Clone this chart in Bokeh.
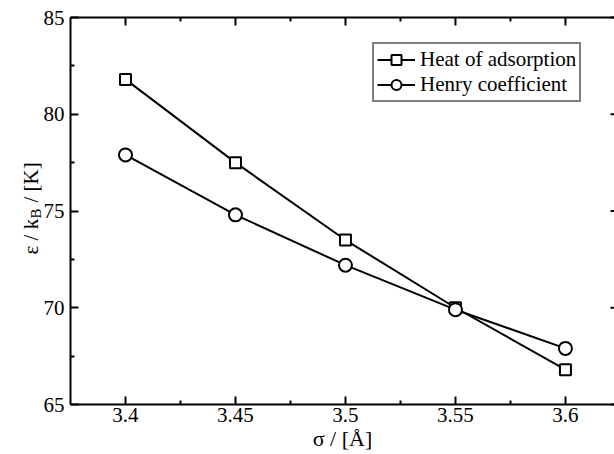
import math
from bokeh.plotting import figure
from bokeh.models import (FixedTicker, LinearAxis, Range1d, Label, Legend, LegendItem)
from bokeh.embed import file_html
from bokeh.resources import INLINE

sigma = [3.4, 3.45, 3.5, 3.55, 3.6]
heat_of_adsorption = [81.8, 77.5, 73.5, 70.0, 66.8]
henry_coefficient = [77.9, 74.8, 72.2, 69.9, 67.9]

x_ticks = [3.4, 3.45, 3.5, 3.55, 3.6]
x_tick_labels = ["3.4", "3.45", "3.5", "3.55", "3.6"]
y_ticks = [65, 70, 75, 80, 85]
y_tick_labels = ["65", "70", "75", "80", "85"]

FONT = "'Liberation Serif', 'Times New Roman', serif"

# axis box (data) and geometry (pixels)
X0, X1 = 3.375, 3.6223
Y0, Y1 = 65, 85
W, H = 614, 454
AXL, AXT, AXB = 70, 17, 404     # pixel positions of left, top, bottom spines
px_x = (W - AXL) / (X1 - X0)
px_y = (AXB - AXT) / (Y1 - Y0)
XS = X0 - AXL / px_x
YS = Y0 - (H - AXB) / px_y
YE = Y1 + AXT / px_y

p = figure(width=W, height=H, output_backend="svg", toolbar_location=None,
           x_range=Range1d(XS, X1), y_range=Range1d(YS, YE),
           min_border=0, x_axis_location=None, y_axis_location=None)
p.grid.visible = False
p.outline_line_color = None
p.background_fill_color = "white"
p.border_fill_color = "white"

x_minor = [a + (b - a) / 2 for a, b in zip(x_ticks[:-1], x_ticks[1:])] + [x_ticks[-1] + 0.025]
y_minor = [a + (b - a) / 2 for a, b in zip(y_ticks[:-1], y_ticks[1:])]
xt = FixedTicker(ticks=x_ticks, minor_ticks=x_minor)
yt = FixedTicker(ticks=y_ticks, minor_ticks=y_minor)


def style(ax):
    ax.axis_line_width = 2
    ax.axis_line_color = "black"
    ax.major_tick_in = 8
    ax.major_tick_out = 0
    ax.minor_tick_in = 4
    ax.minor_tick_out = 0
    ax.major_tick_line_width = 2
    ax.minor_tick_line_width = 2
    ax.major_label_text_font = FONT
    ax.major_label_text_color = "black"
    ax.major_label_text_font_size = "21px"
    ax.axis_label_text_font = FONT
    ax.axis_label_text_font_style = "normal"
    ax.axis_label_text_color = "black"


xb = LinearAxis(ticker=xt, axis_label="σ / [Å]", bounds=(X0, X1), fixed_location=Y0,
                major_label_overrides={t: s for t, s in zip(x_ticks, x_tick_labels)})
style(xb)
xb.axis_label_text_font_size = "22px"
xb.major_label_standoff = 3
xb.axis_label_standoff = 1
p.add_layout(xb, "below")

yl = LinearAxis(ticker=yt, fixed_location=X0, bounds=(Y0, Y1),
                major_label_overrides={t: s for t, s in zip(y_ticks, y_tick_labels)})
style(yl)
yl.major_label_standoff = 6
p.add_layout(yl, "left")

# top spine with inward ticks
p.segment(x0=[X0], y0=[Y1], x1=[X1], y1=[Y1], line_color="black", line_width=2)
p.segment(x0=x_ticks, y0=[Y1] * len(x_ticks), x1=x_ticks,
          y1=[Y1 - 8 / px_y] * len(x_ticks), line_color="black", line_width=2)
p.segment(x0=x_minor, y0=[Y1] * len(x_minor), x1=x_minor,
          y1=[Y1 - 4 / px_y] * len(x_minor), line_color="black", line_width=2)
# right-side inward ticks (spine lies just outside the visible area)
p.scatter([X1] * len(y_ticks), y_ticks, marker="dash", size=8,
          line_color="black", line_width=2)

l1 = p.line(sigma, heat_of_adsorption, line_color="black", line_width=2)
s1 = p.scatter(sigma, heat_of_adsorption, marker="square", size=11,
               line_color="black", line_width=2, fill_color="white")
l2 = p.line(sigma, henry_coefficient, line_color="black", line_width=2)
s2 = p.scatter(sigma, henry_coefficient, marker="circle", size=13,
               line_color="black", line_width=2, fill_color="white")

legend = Legend(items=[LegendItem(label="Heat of adsorption", renderers=[l1, s1]),
                       LegendItem(label="Henry coefficient", renderers=[l2, s2])],
                location=(372, H - 102))
legend.border_line_color = "black"
legend.border_line_width = 2
legend.label_text_font = FONT
legend.label_text_font_size = "21px"
legend.label_text_color = "black"
legend.glyph_width = 38
legend.glyph_height = 25
legend.label_height = 25
legend.label_standoff = 5
legend.padding = 3
legend.spacing = 0
legend.margin = 0
p.add_layout(legend, "center")

# y-axis title with subscript B, rotated, left of the axis line
base = dict(angle=math.pi / 2, text_font=FONT, text_color="black",
            text_align="left", text_baseline="alphabetic")
x_main = X0 - 40 / px_x
x_sub = X0 - 35 / px_x
y_start = Y0 + 150 / px_y
y_sub = y_start + 36 / px_y
y_rest = y_sub + 16 / px_y
p.add_layout(Label(x=x_main, y=y_start, text="ε / k", text_font_size="21px", **base))
p.add_layout(Label(x=x_sub, y=y_sub, text="B", text_font_size="15px", **base))
p.add_layout(Label(x=x_main, y=y_rest, text="/ [K]", text_font_size="21px", **base))

open("out.html", "w").write(file_html(p, INLINE))
